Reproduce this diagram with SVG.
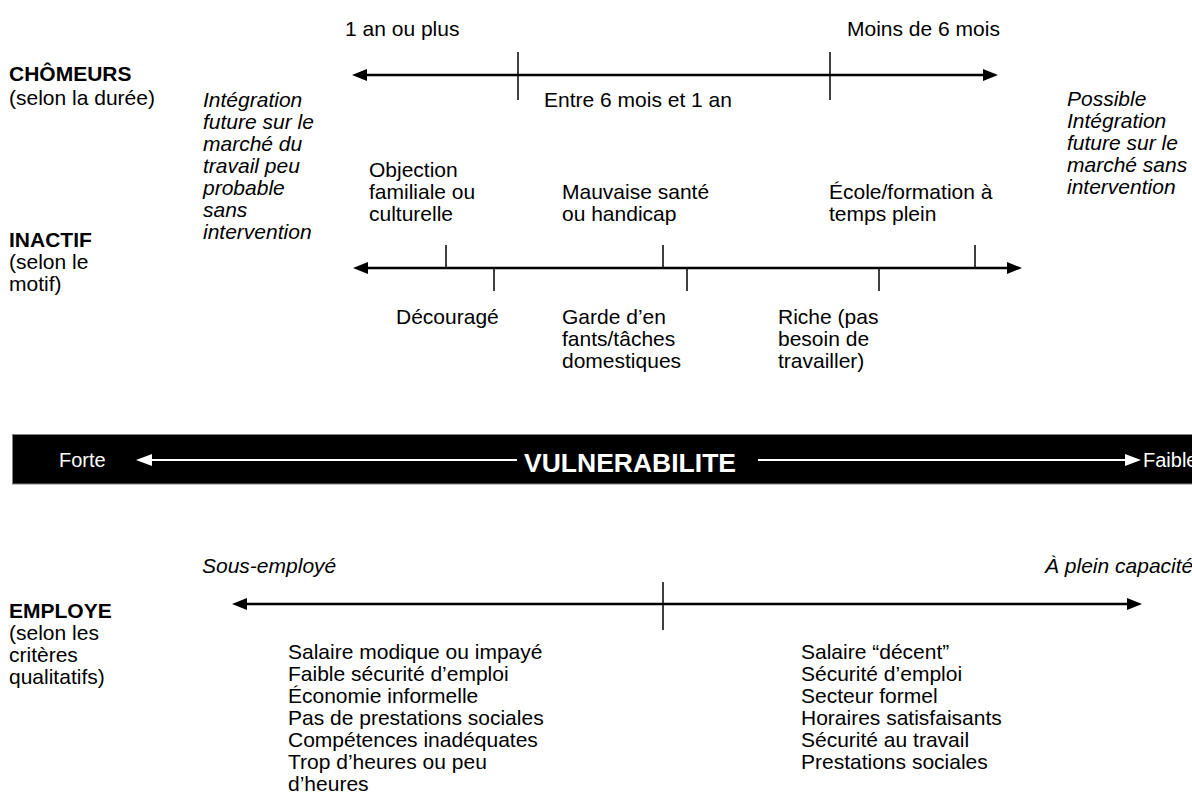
<svg xmlns="http://www.w3.org/2000/svg" width="1192" height="805" viewBox="0 0 1192 805">
<style>
text{font-family:"Liberation Sans",Arial,sans-serif;font-size:21px;fill:#000}
.b{font-weight:bold}
.i{font-style:italic}
.ax{stroke:#000;stroke-width:2.6;fill:none}
.tk{stroke:#000;stroke-width:1.5}
.w{fill:#fff}
.wl{stroke:#fff;stroke-width:2.2}
</style>
<defs>
<marker id="ah" viewBox="0 0 15 12" refX="7" refY="6" markerWidth="15" markerHeight="12" markerUnits="userSpaceOnUse" orient="auto-start-reverse"><path d="M0,0L15,6L0,12z" fill="#000"/></marker>
<marker id="wh" viewBox="0 0 16 12" refX="8" refY="6" markerWidth="16" markerHeight="12" markerUnits="userSpaceOnUse" orient="auto-start-reverse"><path d="M0,0L16,6L0,12z" fill="#fff"/></marker>
</defs>
<g id="chomeurs">
<text class="b" x="9" y="81">CHÔMEURS</text>
<text x="9" y="105">(selon la durée)</text>
<text x="345" y="36">1 an ou plus</text>
<text x="847" y="36">Moins de 6 mois</text>
<text x="544" y="107">Entre 6 mois et 1 an</text>
</g>
<g id="note-left">
<text class="i" x="203" y="107">Intégration</text>
<text class="i" x="203" y="129">future sur le</text>
<text class="i" x="203" y="151">marché du</text>
<text class="i" x="203" y="173">travail peu</text>
<text class="i" x="203" y="195">probable</text>
<text class="i" x="203" y="217">sans</text>
<text class="i" x="203" y="239">intervention</text>
</g>
<g id="note-right">
<text class="i" x="1067" y="106">Possible</text>
<text class="i" x="1067" y="128">Intégration</text>
<text class="i" x="1067" y="150">future sur le</text>
<text class="i" x="1067" y="172">marché sans</text>
<text class="i" x="1067" y="194">intervention</text>
</g>
<g id="inactif">
<text class="b" x="9" y="247">INACTIF</text>
<text x="9" y="269">(selon le</text>
<text x="9" y="291">motif)</text>
<text x="369" y="177">Objection</text>
<text x="369" y="199">familiale ou</text>
<text x="369" y="221">culturelle</text>
<text x="562" y="199">Mauvaise santé</text>
<text x="562" y="221">ou handicap</text>
<text x="829" y="199">École/formation à</text>
<text x="829" y="221">temps plein</text>
<text x="396" y="324">Découragé</text>
<text x="562" y="324">Garde d’en</text>
<text x="562" y="346">fants/tâches</text>
<text x="562" y="368">domestiques</text>
<text x="778" y="324">Riche (pas</text>
<text x="778" y="346">besoin de</text>
<text x="778" y="368">travailler)</text>
</g>
<g id="vulnerabilite">
<rect x="12.5" y="434.5" width="1190" height="49.5" fill="#000" stroke="#808080" stroke-width="1"/>
<text class="w" x="59" y="467" style="font-size:20px">Forte</text>
<text class="w b" x="524" y="472" style="font-size:26.5px">VULNERABILITE</text>
<text class="w" x="1143" y="467" style="font-size:20px">Faible</text>
</g>
<g id="employe">
<text class="i" x="202" y="573">Sous-employé</text>
<text class="i" x="1045" y="573">À plein capacité</text>
<text class="b" x="9" y="618">EMPLOYE</text>
<text x="9" y="640">(selon les</text>
<text x="9" y="662">critères</text>
<text x="9" y="684">qualitatifs)</text>
<text x="288" y="659">Salaire modique ou impayé</text>
<text x="288" y="681">Faible sécurité d’emploi</text>
<text x="288" y="703">Économie informelle</text>
<text x="288" y="725">Pas de prestations sociales</text>
<text x="288" y="747">Compétences inadéquates</text>
<text x="288" y="769">Trop d’heures ou peu</text>
<text x="288" y="791">d’heures</text>
<text x="801" y="659">Salaire “décent”</text>
<text x="801" y="681">Sécurité d’emploi</text>
<text x="801" y="703">Secteur formel</text>
<text x="801" y="725">Horaires satisfaisants</text>
<text x="801" y="747">Sécurité au travail</text>
<text x="801" y="769">Prestations sociales</text>
</g>
<g id="connectors">
<line class="ax" x1="360" y1="75" x2="990" y2="75" marker-start="url(#ah)" marker-end="url(#ah)"/>
<line class="tk" x1="518" y1="52" x2="518" y2="100"/>
<line class="tk" x1="830" y1="52" x2="830" y2="100"/>
<line class="ax" x1="361" y1="268" x2="1014" y2="268" marker-start="url(#ah)" marker-end="url(#ah)"/>
<line class="tk" x1="446" y1="245" x2="446" y2="268"/>
<line class="tk" x1="663" y1="245" x2="663" y2="268"/>
<line class="tk" x1="975" y1="245" x2="975" y2="268"/>
<line class="tk" x1="494" y1="268" x2="494" y2="291"/>
<line class="tk" x1="687" y1="268" x2="687" y2="291"/>
<line class="tk" x1="879" y1="268" x2="879" y2="291"/>
<line class="ax" x1="240" y1="604" x2="1134" y2="604" marker-start="url(#ah)" marker-end="url(#ah)"/>
<line class="tk" x1="663" y1="582" x2="663" y2="630"/>
<line class="wl" x1="144" y1="460" x2="517" y2="460" marker-start="url(#wh)"/>
<line class="wl" x1="758" y1="460" x2="1133" y2="460" marker-end="url(#wh)"/>
</g>
</svg>
